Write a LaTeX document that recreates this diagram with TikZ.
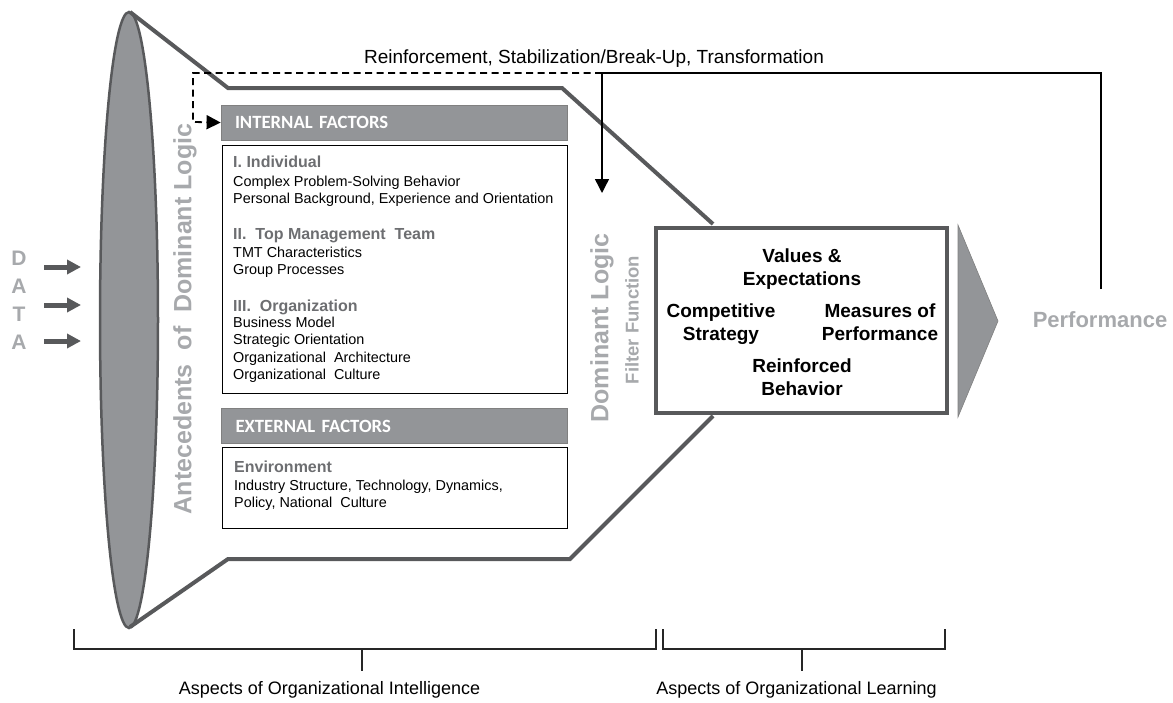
\documentclass[tikz,border=0pt]{standalone}
\usepackage{fontspec}
\setmainfont{Liberation Sans}
\newfontfamily\headfont{Carlito}
\usetikzlibrary{arrows.meta}
\usetikzlibrary{positioning}

\definecolor{ellgray}{HTML}{939598}
\definecolor{edgegray}{HTML}{58595B}
\definecolor{headgray}{HTML}{6D6E71}
\definecolor{logicgray}{HTML}{A7A9AC}

\begin{document}
\begin{tikzpicture}[x=1pt, y=-1pt,
    funnel/.style={draw=edgegray, line width=4pt, line join=miter},
    header/.style={draw=gray, fill=ellgray, line width=0.8pt, minimum width=346pt, minimum height=35pt,
        inner xsep=14pt, text width=318pt, align=left, text=white, font=\headfont\bfseries\fontsize{18.7}{20}\selectfont},
    factorbox/.style={draw=black, line width=0.8pt, minimum width=345pt},
    heading/.style={anchor=base west, inner sep=0pt, text=headgray, font=\bfseries\fontsize{16}{18}\selectfont},
    item/.style={anchor=base west, inner sep=0pt, font=\fontsize{14.4}{16}\selectfont},
    datal/.style={text=logicgray, font=\bfseries\fontsize{21}{24}\selectfont},
    dataarrow/.style={draw=edgegray, line width=5pt, -{Triangle[length=14pt,width=14pt]}},
    valtext/.style={align=center, font=\bfseries\fontsize{19}{23}\selectfont},
    loop/.style={draw=black, line width=1.4pt, -{Triangle[length=14pt,width=14pt]}},
    bracket/.style={draw=black!85, line width=1.5pt}]

        \useasboundingbox (0,0) rectangle (1173,702);

        % funnel
        \draw[draw=edgegray, fill=ellgray, line width=2.5pt] (129,320) ellipse [x radius=29, y radius=308];
        \draw[funnel] (130,12) -- (228,88) -- (562,88) -- (713,224);
        \draw[funnel] (713,416) -- (570,559) -- (228,559) -- (130,627);

        % data
        \node (dD) at (19,258) [datal] {D};
        \node (dA) at (19,286) [datal] {A};
        \node (dT) at (19,314) [datal] {T};
        \node (dA2) at (19,342) [datal] {A};
        \coordinate (in1) at (44,267);
        \coordinate (in2) at (44,305);
        \coordinate (in3) at (44,341);
        \coordinate (out1) at (81,267);
        \coordinate (out2) at (81,305);
        \coordinate (out3) at (81,341);
        \draw[dataarrow] (in1) -- (out1);
        \draw[dataarrow] (in2) -- (out2);
        \draw[dataarrow] (in3) -- (out3);

        % antecedents
        \node (antec) at (185,319) [rotate=90, text=logicgray, font=\bfseries\fontsize{25}{27}\selectfont] {Antecedents\ \ of\ \ Dominant Logic};

        % internal factors
        \node (intH) at (394,122.5) [header] {INTERNAL FACTORS};
        \node (intB) at (394.5,269) [factorbox, minimum height=248pt] {};
        \node (ind) at (233,167) [heading] {I. Individual};
        \node (ind1) at (233,186) [item] {Complex Problem-Solving Behavior};
        \node (ind2) at (233,203) [item] {Personal Background, Experience and Orientation};
        \node (tmt) at (233,239) [heading] {II.\ \ Top Management\ \ Team};
        \node (tmt1) at (233,257) [item] {TMT Characteristics};
        \node (tmt2) at (233,274) [item] {Group Processes};
        \node (org) at (233,311) [heading] {III.\ \ Organization};
        \node (org1) at (233,327) [item] {Business Model};
        \node (org2) at (233,344) [item] {Strategic Orientation};
        \node (org3) at (233,362) [item] {Organizational\ \ Architecture};
        \node (org4) at (233,379) [item] {Organizational\ \ Culture};

        % external factors
        \node (extH) at (394.5,426) [header] {EXTERNAL FACTORS};
        \node (extB) at (394.5,487.5) [factorbox, minimum height=81pt] {};
        \node (env) at (234,472) [heading] {Environment};
        \node (env1) at (234,490) [item] {Industry Structure, Technology, Dynamics,};
        \node (env2) at (234,507) [item] {Policy, National\ \ Culture};

        % dominant logic
        \node (domlog) at (602,328) [rotate=90, text=logicgray, font=\bfseries\fontsize{25}{27}\selectfont] {Dominant Logic};
        \node (filter) at (632,320) [rotate=90, text=logicgray, font=\bfseries\fontsize{18.5}{20}\selectfont] {Filter Function};

        % values box
        \node (values) at (801.5,320.5) [draw=edgegray, line width=4pt, minimum width=291pt, minimum height=185pt] {};
        \node (valexp) at (802,269.5) [valtext] {Values \&\\Expectations};
        \node (compstr) at (721,324) [valtext] {Competitive\\Strategy};
        \node (measperf) at (880,322) [valtext] {Measures of\\Performance};
        \node (reinf) at (802,377) [valtext] {Reinforced\\Behavior};
        \draw[draw=gray, fill=ellgray, line width=0.6pt] (958,225) -- (998,321) -- (958,417) -- cycle;

        % performance and feedback
        \node (perf) at (1100,320) [text=logicgray, font=\bfseries\fontsize{22}{24}\selectfont] {Performance};
        \node (feedtxt) at (594,63) [anchor=base, inner sep=0pt, font=\fontsize{19}{21}\selectfont] {Reinforcement, Stabilization/Break-Up, Transformation};
        \coordinate (perftop) at (1101,289);
        \coordinate (loopR) at (1101,73);
        \coordinate (loopM) at (602,73);
        \coordinate (domtop) at (602,193);
        \coordinate (loopL) at (193,73);
        \coordinate (loopLB) at (193,122);
        \draw[loop] (perftop) -- (loopR) -- (loopM) -- (domtop);
        \draw[loop, line width=1.8pt, dash pattern=on 7pt off 4.5pt] (loopM) -- (loopL) -- (loopLB) -- (intH.west);

        % aspects
        \draw[bracket] (74,629) -- (74,649) -- (656,649) -- (656,629);
        \draw[bracket] (362,649) -- (362,671);
        \draw[bracket] (663,629) -- (663,649) -- (945,649) -- (945,629);
        \draw[bracket] (802,649) -- (802,671);
        \node (intel) at (329.5,694) [anchor=base, inner sep=0pt, font=\fontsize{18}{20}\selectfont] {Aspects of Organizational Intelligence};
        \node (learn) at (796.5,694) [anchor=base, inner sep=0pt, font=\fontsize{18}{20}\selectfont] {Aspects of Organizational Learning};
\end{tikzpicture}
\end{document}
